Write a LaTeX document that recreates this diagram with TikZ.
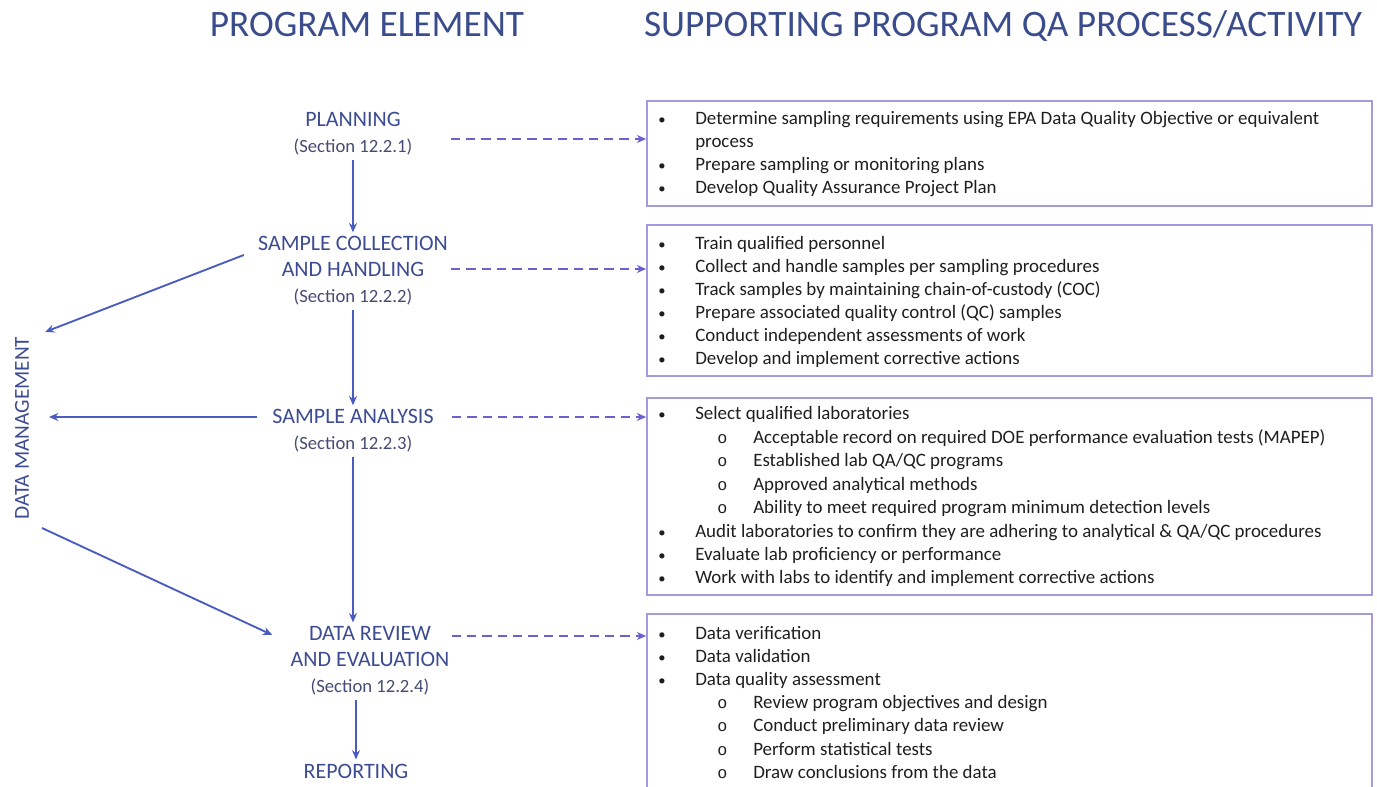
\documentclass[tikz,border=0pt]{standalone}
\usepackage{fontspec}
\setmainfont{Carlito}
\newfontfamily\qamono{Liberation Mono}
\usepackage{tikz}
\usetikzlibrary{arrows.meta,positioning,calc,fit}
\definecolor{qahead}{HTML}{3A4C8C}
\definecolor{qalabel}{HTML}{3D4C92}
\definecolor{qagris}{HTML}{454B72}
\definecolor{qaarrow}{HTML}{4A5CC0}
\definecolor{qadash}{HTML}{6A60D0}
\definecolor{qaframe}{HTML}{A29CDE}
\definecolor{qatext}{HTML}{1E1E1E}
\newcommand\qasec{\fontsize{14}{19.5}\selectfont\color{qagris}}
\newcommand\qadot{{\fontsize{11}{11}\selectfont •}}
\newcommand\qacirc{{\qamono\fontsize{12.5}{12.5}\selectfont o}}

\begin{document}
\begin{tikzpicture}[x=0.75pt, y=-0.75pt,
  head/.style={text=qahead, font=\fontsize{28}{32}\selectfont, anchor=base},
  elem/.style={text=qalabel, align=center, inner sep=3pt, font=\fontsize{16.5}{19.5}\selectfont},
  arr/.style={qaarrow, line width=1.4pt, -{Stealth[length=7pt,width=6pt]}},
  dasharr/.style={qadash, line width=1.7pt, dash pattern=on 7pt off 4.5pt, -{Stealth[length=7pt,width=6pt]}},
  qabox/.style={draw=qaframe, line width=1.3pt, inner sep=0pt},
  item/.style={anchor=base west, text=qatext, font=\fontsize{14.2}{17}\selectfont, inner sep=0pt}]
  \clip (0,0) rectangle (1377,787);
  % titres
  \node[head] (hleft) at (367,37) {PROGRAM ELEMENT};
  \node[head] (hright) at (1003,37) {SUPPORTING PROGRAM QA PROCESS/ACTIVITY};
  % program elements
  \node[elem] (plan) at (353,134) {PLANNING\\{\qasec (Section 12.2.1)}};
  \node[elem] (coll) at (353,271) {SAMPLE COLLECTION\\AND HANDLING\\{\qasec (Section 12.2.2)}};
  \node[elem] (anal) at (353,431) {SAMPLE ANALYSIS\\{\qasec (Section 12.2.3)}};
  \node[elem] (review) at (370,661) {DATA REVIEW\\AND EVALUATION\\{\qasec (Section 12.2.4)}};
  \node[elem] (report) at (356,771) {REPORTING};
  \node[elem, rotate=90, font=\fontsize{16}{19}\selectfont] (dm) at (22,428) {DATA MANAGEMENT};
  % flow
  \draw[arr] (plan) -- (coll);
  \draw[arr] (coll) -- (anal);
  \draw[arr] (anal.south) -- (anal.south |- review.north);
  \draw[arr] (report.north |- review.south) -- (report.north);
  % data management
  \draw[arr] ([shift={(-10,-16)}]coll.west) -- ([shift={(23,-96)}]dm.center);
  \draw[arr] ([shift={(-11,-14)}]anal.west) -- ([shift={(27,-11)}]dm.center);
  \draw[arr] ([shift={(20,100)}]dm.center) -- ([shift={(-14,-26)}]review.west);
  % QA boxes
  \node[qabox, fit={(647,101) (1372,206)}] (box1) {};
  \node[qabox, fit={(647,225) (1372,376)}] (box2) {};
  \node[qabox, fit={(647,398) (1372,595)}] (box3) {};
  \node[qabox, fit={(647,614) (1372,830)}] (box4) {};
  % dashed links
  \path (plan.east) ++(34,5) coordinate (planout);
  \path (coll.east) ++(-1,-2) coordinate (collout);
  \path (anal.east) ++(14,-14) coordinate (analout);
  \path (review.east) ++(-2,-25) coordinate (revout);
  \draw[dasharr] (planout) -- (planout -| box1.west);
  \draw[dasharr] (collout) -- (collout -| box2.west);
  \draw[dasharr] (analout) -- (analout -| box3.west);
  \draw[dasharr] (revout) -- (revout -| box4.west);
  % box texts (0 bullet, 1 sub bullet, 2 suite)
  \foreach \lv/\txt [count=\i] in {0/Determine sampling requirements using EPA Data Quality Objective or equivalent,
      2/process, 0/Prepare sampling or monitoring plans, 0/Develop Quality Assurance Project Plan} {
    \pgfmathsetmacro\yy{125+23*(\i-1)}
    \ifnum\lv=0 \node[item] (pb\i) at (658,\yy) {\qadot}; \fi
    \node[item] (pt\i) at (695,\yy) {\txt};
  }
  \foreach \lv/\txt [count=\i] in {0/Train qualified personnel, 0/Collect and handle samples per sampling procedures,
      0/Track samples by maintaining chain-of-custody (COC), 0/Prepare associated quality control (QC) samples,
      0/Conduct independent assessments of work, 0/Develop and implement corrective actions} {
    \pgfmathsetmacro\yy{250+23*(\i-1)}
    \node[item] (cb\i) at (658,\yy) {\qadot};
    \node[item] (ct\i) at (695,\yy) {\txt};
  }
  \foreach \lv/\txt [count=\i] in {0/Select qualified laboratories,
      1/Acceptable record on required DOE performance evaluation tests (MAPEP),
      1/{Established lab QA/QC programs}, 1/Approved analytical methods,
      1/Ability to meet required program minimum detection levels,
      0/{Audit laboratories to confirm they are adhering to analytical \& QA/QC procedures},
      0/Evaluate lab proficiency or performance, 0/Work with labs to identify and implement corrective actions} {
    \pgfmathsetmacro\yy{420+23.4*(\i-1)}
    \ifnum\lv=1
      \node[item] (ab\i) at (717,\yy) {\qacirc};
      \node[item] (at\i) at (753,\yy) {\txt};
    \else
      \node[item] (ab\i) at (658,\yy) {\qadot};
      \node[item] (at\i) at (695,\yy) {\txt};
    \fi
  }
  \foreach \lv/\txt [count=\i] in {0/Data verification, 0/Data validation, 0/Data quality assessment,
      1/Review program objectives and design, 1/Conduct preliminary data review,
      1/Perform statistical tests, 1/Draw conclusions from the data} {
    \pgfmathsetmacro\yy{639+23.2*(\i-1)}
    \ifnum\lv=1
      \node[item] (rb\i) at (717,\yy) {\qacirc};
      \node[item] (rt\i) at (753,\yy) {\txt};
    \else
      \node[item] (rb\i) at (658,\yy) {\qadot};
      \node[item] (rt\i) at (695,\yy) {\txt};
    \fi
  }
\end{tikzpicture}
\end{document}
